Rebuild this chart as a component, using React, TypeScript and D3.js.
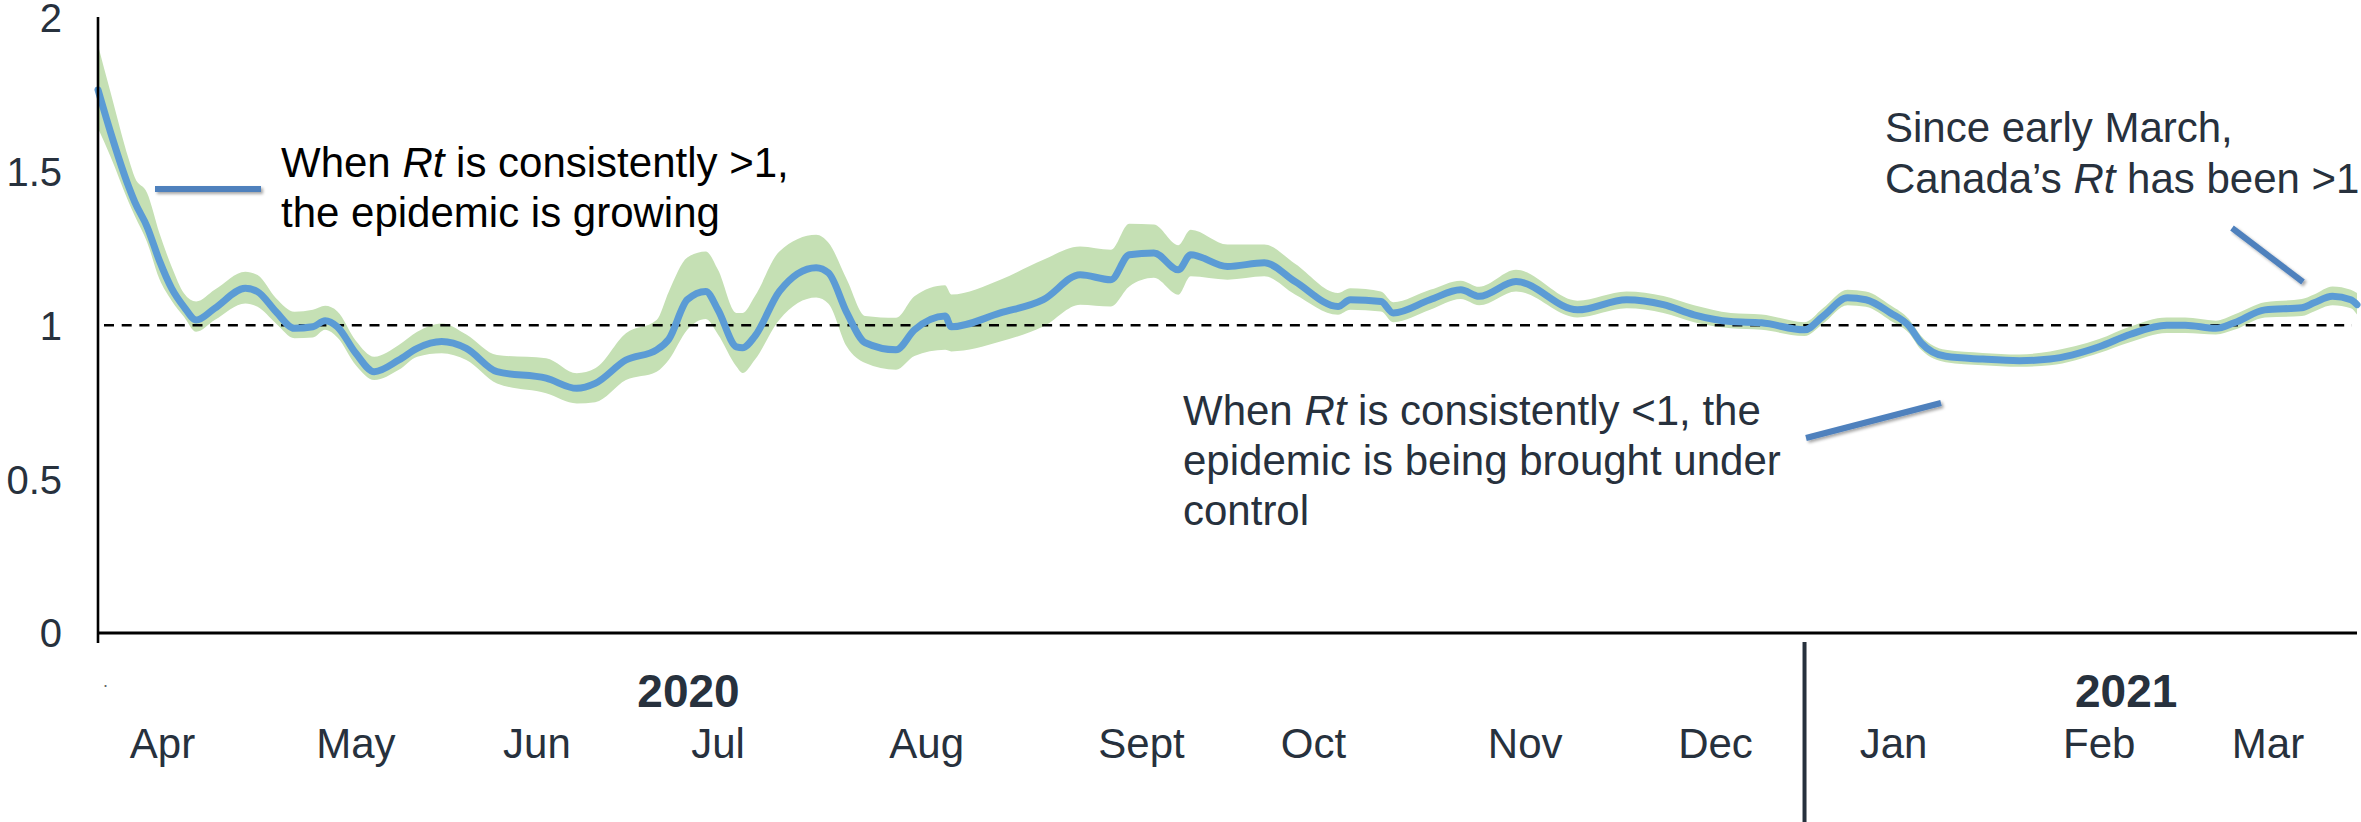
import React, { useEffect } from "react";
import * as d3 from "d3";

// Days since 2020-03-28
const days = [0, 2, 5, 6, 8, 10, 12, 14, 16, 19, 24, 26, 29, 32, 35, 37, 39, 42, 45, 49, 52, 56, 60, 65, 73, 78, 81, 86, 91, 93, 96, 99, 101, 104, 105, 107, 111, 117, 119, 122, 125, 130, 133, 138, 139, 147, 154, 160, 165, 168, 172, 176, 178, 184, 190, 195, 202, 204, 209, 211, 217, 222, 225, 231, 241, 249, 255, 260, 266, 271, 278, 281, 285, 288, 292, 295, 297, 301, 307, 313, 318, 326, 331, 337, 340, 345, 348, 353, 359, 361, 364, 367, 368];
const rt = [1.765, 1.63, 1.45, 1.40, 1.32, 1.21, 1.12, 1.06, 1.017, 1.055, 1.12, 1.109, 1.044, 0.99, 0.995, 1.015, 0.995, 0.909, 0.849, 0.887, 0.925, 0.947, 0.925, 0.849, 0.828, 0.795, 0.811, 0.887, 0.92, 0.955, 1.083, 1.11, 1.05, 0.93, 0.927, 0.964, 1.11, 1.187, 1.17, 1.04, 0.943, 0.92, 0.985, 1.03, 0.995, 1.04, 1.083, 1.164, 1.148, 1.229, 1.235, 1.18, 1.229, 1.191, 1.203, 1.142, 1.061, 1.083, 1.077, 1.04, 1.083, 1.115, 1.094, 1.142, 1.05, 1.083, 1.067, 1.034, 1.012, 1.008, 0.985, 1.029, 1.089, 1.083, 1.04, 0.998, 0.943, 0.899, 0.89, 0.885, 0.89, 0.93, 0.97, 1.0, 1.0, 0.99, 1.008, 1.05, 1.057, 1.073, 1.094, 1.083, 1.067];
const rtLow = [1.64, 1.55, 1.40, 1.355, 1.27, 1.15, 1.08, 1.028, 0.979, 1.017, 1.071, 1.06, 1.006, 0.958, 0.96, 0.985, 0.96, 0.87, 0.822, 0.855, 0.898, 0.909, 0.887, 0.811, 0.779, 0.746, 0.75, 0.822, 0.849, 0.888, 0.985, 1.02, 0.97, 0.866, 0.845, 0.888, 1.018, 1.09, 1.07, 0.93, 0.877, 0.855, 0.90, 0.92, 0.915, 0.947, 0.996, 1.067, 1.061, 1.126, 1.154, 1.099, 1.159, 1.148, 1.159, 1.10, 1.034, 1.05, 1.045, 1.01, 1.05, 1.085, 1.065, 1.11, 1.025, 1.055, 1.04, 1.01, 0.99, 0.985, 0.965, 1.005, 1.065, 1.06, 1.015, 0.975, 0.92, 0.88, 0.87, 0.865, 0.87, 0.91, 0.945, 0.975, 0.975, 0.97, 0.985, 1.025, 1.03, 1.045, 1.065, 1.055, 1.035];
const rtHigh = [1.91, 1.76, 1.54, 1.48, 1.43, 1.30, 1.19, 1.104, 1.077, 1.115, 1.174, 1.163, 1.088, 1.044, 1.05, 1.063, 1.045, 0.95, 0.898, 0.936, 0.979, 1.006, 0.97, 0.903, 0.893, 0.844, 0.86, 0.974, 1.017, 1.11, 1.22, 1.24, 1.18, 1.04, 1.04, 1.094, 1.24, 1.294, 1.268, 1.148, 1.03, 1.024, 1.094, 1.13, 1.10, 1.148, 1.213, 1.256, 1.245, 1.33, 1.327, 1.26, 1.31, 1.262, 1.262, 1.20, 1.105, 1.12, 1.11, 1.075, 1.115, 1.145, 1.125, 1.18, 1.08, 1.11, 1.095, 1.065, 1.04, 1.035, 1.01, 1.055, 1.115, 1.11, 1.065, 1.02, 0.965, 0.92, 0.91, 0.905, 0.915, 0.955, 0.995, 1.025, 1.025, 1.015, 1.035, 1.075, 1.085, 1.10, 1.126, 1.115, 1.105];

const yTicks = [0, 0.5, 1, 1.5, 2];
const yTickLabels = ["0", "0.5", "1", "1.5", "2"];
const monthLabels = ["Apr", "May", "Jun", "Jul", "Aug", "Sept", "Oct", "Nov", "Dec", "Jan", "Feb", "Mar"];
const monthDays = [10.5, 42, 71.5, 101, 135, 170, 198, 232.5, 263.5, 292.5, 326, 353.5];
const yearLabels = ["2020", "2021"];
const yearDays = [96.2, 330.4];
const yearBreakDay = 278;
const threshold = 1;

const W = 2361;
const H = 822;
const FONT = "'Liberation Sans', Arial, Helvetica, sans-serif";
const DARK = "#27313d";

export default function App() {
  useEffect(() => {
    document.body.style.margin = "0";
  }, []);

  const x = d3.scaleLinear().domain([0, 368]).range([98, 2357]);
  const y = d3.scaleLinear().domain([0, 2]).range([633, 17.5]);

  const pts = days.map((d, i) => ({ d, v: rt[i], lo: rtLow[i], hi: rtHigh[i] }));
  const area = d3
    .area<any>()
    .x((p) => x(p.d))
    .y0((p) => y(p.lo))
    .y1((p) => y(p.hi))
    .curve(d3.curveMonotoneX);
  const line = d3
    .line<any>()
    .x((p) => x(p.d))
    .y((p) => y(p.v))
    .curve(d3.curveMonotoneX);

  return (
    <svg width={W} height={H} style={{ display: "block", background: "#fff" }} fontFamily={FONT}>
      <defs>
        <filter id="shadow" filterUnits="userSpaceOnUse" x={0} y={0} width={W} height={H}>
          <feDropShadow dx="2" dy="2" stdDeviation="1.5" floodColor="#000" floodOpacity="0.35" />
        </filter>
      </defs>

      {/* confidence band */}
      <path d={area(pts) || ""} fill="#c5e0b4" />

      {/* threshold line */}
      <line x1={104} x2={2352} y1={y(threshold)} y2={y(threshold)} stroke="#000" strokeWidth={2.6} strokeDasharray="10 7.7" />

      {/* Rt line */}
      <path d={line(pts) || ""} fill="none" stroke="#5b9bd5" strokeWidth={7} strokeLinejoin="round" strokeLinecap="round" />

      {/* axes */}
      <line x1={98} x2={98} y1={17} y2={643} stroke="#000" strokeWidth={2.6} />
      <line x1={98} x2={2357} y1={633} y2={633} stroke="#000" strokeWidth={3} />

      {/* y tick labels */}
      {yTicks.map((t, i) => (
        <text key={t} x={62} y={y(t)} dy="0.36em" textAnchor="end" fontSize={40} fill={DARK}>
          {yTickLabels[i]}
        </text>
      ))}

      {/* year separator */}
      <line x1={x(yearBreakDay)} x2={x(yearBreakDay)} y1={642} y2={822} stroke={DARK} strokeWidth={4} />

      {/* tiny dot */}
      <text x={103} y={687} fontSize={18} fill="#666">.</text>

      {/* year labels */}
      {yearLabels.map((l, i) => (
        <text key={l} x={x(yearDays[i])} y={706.5} textAnchor="middle" fontSize={46} fontWeight="bold" fill={DARK}>
          {l}
        </text>
      ))}

      {/* month labels */}
      {monthLabels.map((m, i) => (
        <text key={m} x={x(monthDays[i])} y={758} textAnchor="middle" fontSize={42} fill={DARK}>
          {m}
        </text>
      ))}

      {/* annotation: growing */}
      <line x1={155} x2={261} y1={189} y2={189} stroke="#4f81bd" strokeWidth={6} filter="url(#shadow)" />
      <text x={281} y={177} fontSize={42} fill="#000">
        When <tspan fontStyle="italic">Rt</tspan> is consistently &gt;1,
      </text>
      <text x={281} y={227} fontSize={42} fill="#000">
        the epidemic is growing
      </text>

      {/* annotation: under control */}
      <line x1={1806} x2={1941} y1={438} y2={403} stroke="#4f81bd" strokeWidth={6} filter="url(#shadow)" />
      <text x={1183} y={425} fontSize={42} fill={DARK}>
        When <tspan fontStyle="italic">Rt</tspan> is consistently &lt;1, the
      </text>
      <text x={1183} y={475} fontSize={42} fill={DARK}>
        epidemic is being brought under
      </text>
      <text x={1183} y={525} fontSize={42} fill={DARK}>
        control
      </text>

      {/* annotation: since March */}
      <line x1={2232} x2={2303} y1={228} y2={282} stroke="#4f81bd" strokeWidth={6} filter="url(#shadow)" />
      <text x={1885} y={142} fontSize={42} fill={DARK}>
        Since early March,
      </text>
      <text x={1885} y={193} fontSize={42} fill={DARK}>
        Canada’s <tspan fontStyle="italic">Rt</tspan> has been &gt;1
      </text>
    </svg>
  );
}
